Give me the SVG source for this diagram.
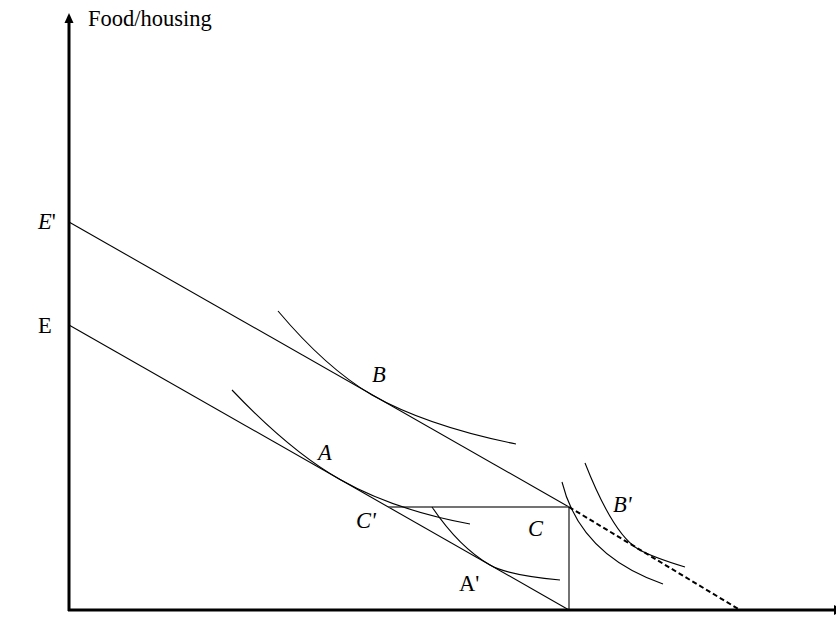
<svg xmlns="http://www.w3.org/2000/svg" width="836" height="624" viewBox="0 0 836 624">
<style>
.ln{fill:none;stroke:#000;stroke-width:1.1}
.ax{fill:none;stroke:#000;stroke-width:3}
.t{font-family:"Liberation Serif",serif;font-size:22.5px;fill:#000}
.i{font-style:italic}
</style>
<rect width="836" height="624" fill="#fff"/>
<g id="axes">
<line class="ax" x1="69" y1="611" x2="69" y2="22"/>
<polygon points="69,13 64.5,23 73.5,23" fill="#000"/>
<line class="ax" x1="68" y1="610" x2="835" y2="610"/>
<polygon points="845,610 834,605 834,615" fill="#000"/>
</g>
<g id="connectors">
<line class="ln" x1="69" y1="222" x2="569" y2="507"/>
<line class="ln" x1="69" y1="325" x2="569" y2="610"/>
<line x1="569" y1="507" x2="740" y2="610" stroke="#000" stroke-width="2" stroke-dasharray="5,3"/>
<line x1="388" y1="507" x2="569" y2="507" stroke="#444" stroke-width="1.4"/>
<line class="ln" x1="569" y1="507" x2="569" y2="610"/>
</g>
<g id="curve-B"><path class="ln" d="M278,311 Q326,368 372,395 Q427,426 516,444"/></g>
<g id="curve-A"><path class="ln" d="M232,390 Q290,451 340,479.5 Q394,510 470,524"/></g>
<g id="curve-A2"><path class="ln" d="M432,507 Q459,547 490,565 Q507,575 560,580"/></g>
<g id="curve-C"><path class="ln" d="M562,482 Q580,555 663,584"/></g>
<g id="curve-B2"><path class="ln" d="M585,463 Q613,534 638,549 Q652,557 685,567"/></g>
<g id="labels">
<text class="t" x="88" y="26">Food/housing</text>
<text class="t" x="38" y="229"><tspan class="i">E</tspan>'</text>
<text class="t" x="38" y="333">E</text>
<text class="t i" x="372" y="382">B</text>
<text class="t i" x="318" y="460">A</text>
<text class="t i" x="356" y="528">C'</text>
<text class="t i" x="528" y="536">C</text>
<text class="t" x="459" y="591">A'</text>
<text class="t i" x="613" y="512">B'</text>
</g>
</svg>
